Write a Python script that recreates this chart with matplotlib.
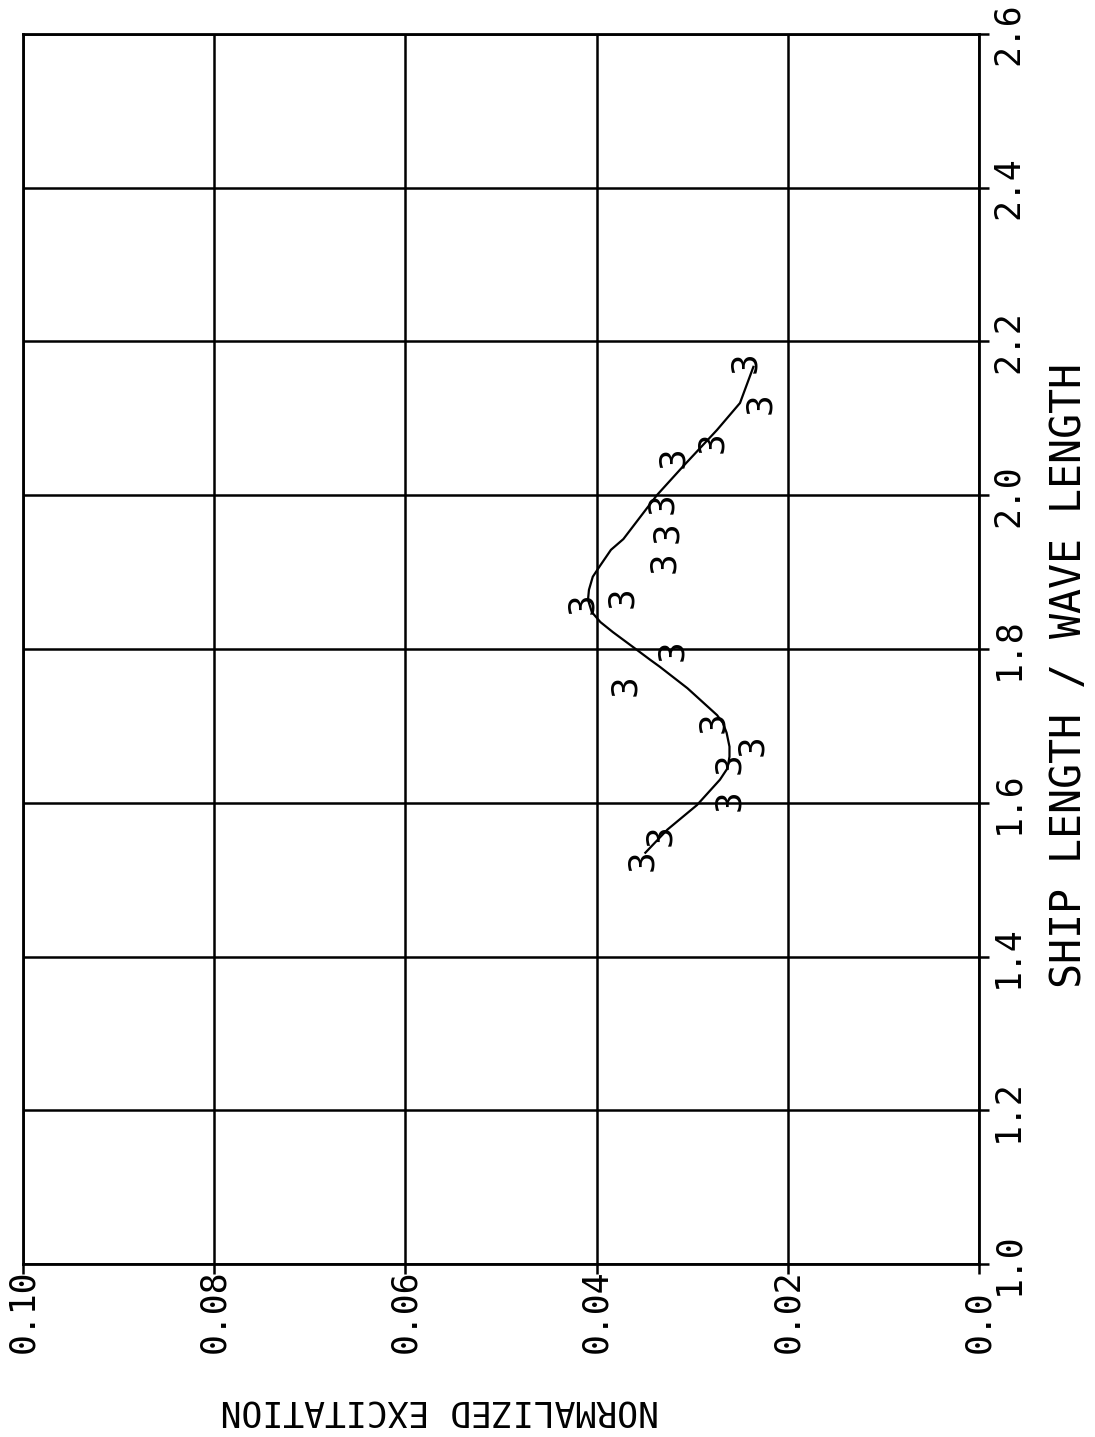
import matplotlib
matplotlib.use('Agg')
import matplotlib.pyplot as plt
import matplotlib.transforms as mtransforms

# measured points (plotted with symbol "3")
ratio = [1.525, 1.558, 1.604, 1.652, 1.675, 1.705, 1.753, 1.799, 1.860,
         1.868, 1.913, 1.952, 1.990, 2.049, 2.069, 2.120, 2.173]
excitation = [0.0352, 0.0334, 0.0261, 0.0261, 0.0237, 0.0278, 0.0370, 0.0321,
              0.0415, 0.0373, 0.0329, 0.0326, 0.0331, 0.0320, 0.0279, 0.0229,
              0.0245]

# fitted curve
curve_ratio = [1.535, 1.565, 1.597, 1.630, 1.645, 1.660, 1.673, 1.691, 1.704,
               1.714, 1.749, 1.777, 1.786, 1.799, 1.822, 1.835, 1.848, 1.864,
               1.877, 1.894, 1.909, 1.929, 1.943, 2.000, 2.037, 2.085, 2.120,
               2.167]
curve_exc = [0.0349, 0.0326, 0.0295, 0.0271, 0.0263, 0.0261, 0.0261, 0.0264,
             0.0268, 0.0274, 0.0305, 0.0334, 0.0344, 0.0358, 0.0383, 0.0396,
             0.0405, 0.0409, 0.0408, 0.0404, 0.0396, 0.0385, 0.0372, 0.0337,
             0.0310, 0.0274, 0.0250, 0.0236]

ratio_ticks = [1.0, 1.2, 1.4, 1.6, 1.8, 2.0, 2.2, 2.4, 2.6]
ratio_labels = ['1.0', '1.2', '1.4', '1.6', '1.8', '2.0', '2.2', '2.4', '2.6']
exc_ticks = [0.10, 0.08, 0.06, 0.04, 0.02, 0.0]
exc_labels = ['0.10', '0.08', '0.06', '0.04', '0.02', '0.0']

FONT = 'DejaVu Sans Mono'

fig = plt.figure(figsize=(10.95, 14.37), dpi=100)
ax = fig.add_axes([23 / 1095, 173 / 1437, 956 / 1095, 1230 / 1437])
ax.set_xlim(0.10, 0.0)
ax.set_ylim(1.0, 2.6)

ax.set_xticks(exc_ticks)
ax.set_yticks(ratio_ticks)
ax.grid(True, color='black', linewidth=1.8)
ax.yaxis.tick_right()
ax.tick_params(direction='out', length=7, width=1.8, color='black',
               labelbottom=False, labelright=False)
for sp in ax.spines.values():
    sp.set_linewidth(2.0)

ax.plot(curve_exc, curve_ratio, color='black', linewidth=1.6,
        solid_joinstyle='round')
for e, s in zip(excitation, ratio):
    ax.text(e, s, '3', rotation=90, ha='center', va='center',
            fontsize=26, family=FONT)

# tick labels, drawn sideways
bot = mtransforms.blended_transform_factory(ax.transData, ax.transAxes)
for v, lab in zip(exc_ticks, exc_labels):
    ax.text(v, -0.0724, lab, transform=bot, rotation=90, ha='center',
            va='bottom', fontsize=25, family=FONT)
rgt = mtransforms.blended_transform_factory(ax.transAxes, ax.transData)
for v, lab in zip(ratio_ticks, ratio_labels):
    ax.text(1.0126, v, lab, transform=rgt, rotation=90, ha='left',
            va='center', fontsize=25, family=FONT)

fig.text(440 / 1095, 1 - 1411 / 1437, 'NORMALIZED EXCITATION', rotation=180,
         ha='center', va='center', fontsize=25, family=FONT)
fig.text(1069 / 1095, 1 - 675 / 1437, 'SHIP LENGTH / WAVE LENGTH', rotation=90,
         ha='center', va='center', fontsize=30, family=FONT)

fig.savefig('out.png', dpi=100)
